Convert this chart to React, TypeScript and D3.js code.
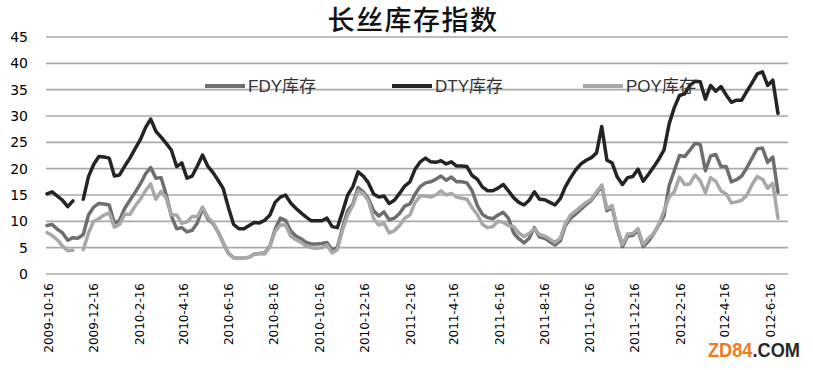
import React from 'react';
import * as d3 from 'd3';

const startDate = new Date(2009, 9, 16);

const fdyValues: (number | null)[] = [
  9.2, 9.4, 8.5, 7.8, 6.4, 6.9, 6.8, 7.5, 11.2, 12.7,
  13.4, 13.3, 13.1, 9.6, 10.2, 12.5, 14.0, 15.5, 17.1, 19.0,
  20.2, 18.2, 18.3, 15.0, 11.0, 8.6, 8.8, 8.0, 8.3, 9.7,
  12.5, 10.5, 9.6, 8.0, 5.9, 3.9, 3.1, 3.0, 3.0, 3.2,
  3.8, 3.9, 4.0, 5.3, 8.5, 10.6, 10.2, 8.2, 7.2, 6.7,
  6.0, 5.7, 5.7, 5.8, 6.0, 4.6, 5.0, 8.8, 12.0, 13.3,
  16.4, 15.6, 14.3, 12.0, 11.0, 11.8, 10.3, 10.6, 11.5, 12.9,
  13.3, 15.2, 16.6, 17.3, 17.5, 18.0, 18.6, 17.8, 18.4, 17.5,
  17.5, 17.3, 15.8, 13.0, 11.3, 10.7, 10.5, 11.2, 11.7, 10.6,
  7.8, 6.7, 5.9, 6.8, 8.8, 7.0, 6.8, 6.1, 5.5, 6.3,
  9.2, 10.6, 11.4, 12.3, 13.2, 14.0, 15.3, 16.8, 12.0, 12.7,
  8.5, 5.2, 7.2, 7.3, 8.3, 5.2, 6.2, 7.6, 9.3, 11.0,
  16.8, 19.6, 22.5, 22.3, 23.5, 24.8, 24.6, 19.6, 22.4, 22.7,
  20.4, 20.4, 17.5, 17.9, 18.6, 20.2, 22.0, 23.8, 23.9, 21.2,
  22.2, 15.5,
];

const dtyValues: (number | null)[] = [
  15.2, 15.6, 14.8, 14.0, 12.8, 13.9, null, 14.2, 18.5, 20.8,
  22.3, 22.2, 22.0, 18.6, 18.8, 20.5, 22.0, 23.8, 25.5, 27.8,
  29.4, 27.1, 26.0, 24.8, 23.5, 20.4, 21.1, 18.2, 18.6, 20.5,
  22.6, 20.5, 19.3, 17.8, 16.2, 12.6, 9.4, 8.6, 8.6, 9.2,
  9.8, 9.7, 10.2, 11.2, 13.6, 14.6, 15.0, 13.5, 12.5, 11.6,
  10.8, 10.1, 10.1, 10.1, 10.6, 9.0, 8.8, 11.8, 15.0, 16.6,
  19.4, 18.6, 17.3, 15.2, 14.6, 14.8, 13.4, 14.0, 15.3, 16.7,
  17.5, 19.9, 21.3, 22.0, 21.3, 21.2, 21.5, 20.9, 21.3, 20.5,
  20.5, 20.4, 18.7, 18.0, 16.5, 15.8, 15.8, 16.3, 17.0, 15.8,
  14.5, 13.6, 13.1, 14.0, 15.6, 14.2, 14.1, 13.6, 13.1, 14.3,
  16.6, 18.3, 19.8, 20.9, 21.6, 22.1, 23.0, 28.0, 21.6, 21.1,
  18.4, 17.0, 18.3, 18.5, 19.9, 17.6, 18.9, 20.3, 21.8, 23.5,
  28.5, 31.6, 33.9, 34.2, 35.8, 36.6, 36.5, 33.2, 35.8, 34.7,
  35.6, 34.0, 32.6, 33.0, 33.0, 34.7, 36.3, 38.0, 38.4, 35.8,
  36.8, 30.5,
];

const poyValues: (number | null)[] = [
  7.9, 7.3, 6.5, 5.3, 4.4, 4.5, null, 4.6, 7.8, 10.0,
  10.5, 11.2, 11.6, 8.9, 9.4, 11.4, 11.3, 12.9, 14.2, 15.8,
  17.1, 14.2, 15.7, 14.4, 11.2, 11.2, 9.6, 9.9, 10.9, 10.9,
  12.7, 10.8, 9.8, 8.0, 6.0, 3.9, 3.1, 3.0, 3.0, 3.2,
  3.8, 3.9, 3.8, 5.2, 8.1, 9.3, 9.3, 7.2, 6.5, 6.0,
  5.3, 5.0, 4.9, 5.0, 5.5, 4.0, 4.6, 8.3, 11.2, 13.0,
  15.8, 15.3, 13.9, 10.5, 9.3, 9.6, 7.8, 8.2, 9.2, 10.6,
  11.2, 13.6, 14.8, 14.8, 14.6, 15.0, 15.8, 15.0, 15.3, 14.6,
  14.4, 14.2, 12.6, 11.3, 9.4, 8.8, 9.0, 10.0, 9.8, 9.2,
  9.0, 7.8, 7.1, 7.7, 8.6, 7.5, 7.2, 6.6, 6.0, 6.8,
  9.6, 11.2, 12.0, 12.8, 13.6, 14.2, 15.6, 16.9, 12.4, 13.0,
  8.8, 5.6, 7.6, 7.7, 8.6, 5.6, 6.8, 7.7, 9.4, 12.0,
  14.6, 15.6, 18.4, 17.0, 17.1, 18.8, 17.7, 15.4, 18.3, 17.6,
  15.8, 15.2, 13.5, 13.7, 14.0, 15.0, 17.0, 18.5, 18.0, 16.3,
  17.2, 10.6,
];

const seriesNames = ['FDY库存', 'DTY库存', 'POY库存'];
const seriesColors = ['#6e6e6e', '#242424', '#a8a8a8'];

const tickLabels = [
  '2009-10-16', '2009-12-16', '2010-2-16', '2010-4-16', '2010-6-16', '2010-8-16',
  '2010-10-16', '2010-12-16', '2011-2-16', '2011-4-16', '2011-6-16', '2011-8-16',
  '2011-10-16', '2011-12-16', '2012-2-16', '2012-4-16', '2012-6-16',
];

const yTicks = [0, 5, 10, 15, 20, 25, 30, 35, 40, 45];

const dates = fdyValues.map((_, i) => d3.timeDay.offset(startDate, i * 7));

function parseLabel(s: string) {
  const [yy, mm, dd] = s.split('-').map(Number);
  return new Date(yy, mm - 1, dd);
}

export default function App() {
  const W = 813;
  const H = 370;
  const x = d3.scaleTime().domain([dates[0], dates[dates.length - 1]]).range([47, 778]);
  const y = d3.scaleLinear().domain([0, 45]).range([274, 37]);

  const lineGen = d3
    .line<number | null>()
    .defined((d) => d != null)
    .x((_, i) => x(dates[i]))
    .y((d) => y(d as number));

  const allSeries = [fdyValues, dtyValues, poyValues];
  const legendX = [205, 392, 583];

  return (
    <svg
      width={W}
      height={H}
      style={{ position: 'absolute', left: 0, top: 0, background: '#fff' }}
    >
      <rect x={0} y={0} width={W} height={H} fill="#fff" />
      <text
        x={413}
        y={30}
        textAnchor="middle"
        fontFamily="'Noto Sans CJK SC', sans-serif"
        fontSize={27}
        fontWeight={500}
        letterSpacing={1.5}
        fill="#111"
      >
        长丝库存指数
      </text>
      {yTicks.map((t) => (
        <g key={t}>
          <line x1={46} x2={788} y1={y(t)} y2={y(t)} stroke="#a9a9a9" strokeWidth={1.6} />
          <text
            x={28}
            y={y(t)}
            dy="0.35em"
            textAnchor="end"
            fontFamily="'DejaVu Sans', sans-serif"
            fontSize={14}
            fill="#000"
          >
            {t}
          </text>
        </g>
      ))}
      {tickLabels.map((s) => {
        const tx = x(parseLabel(s)) + 2;
        return (
          <text
            key={s}
            transform={`translate(${tx},283) rotate(-90)`}
            dy="0.35em"
            textAnchor="end"
            fontFamily="'DejaVu Sans', sans-serif"
            fontSize={12}
            fill="#000"
          >
            {s}
          </text>
        );
      })}
      {allSeries.map((vals, k) => (
        <path
          key={seriesNames[k]}
          d={lineGen(vals) || ''}
          fill="none"
          stroke={seriesColors[k]}
          strokeWidth={3.5}
          strokeLinejoin="round"
          strokeLinecap="round"
        />
      ))}
      {seriesNames.map((n, k) => (
        <g key={n}>
          <line
            x1={legendX[k]}
            x2={legendX[k] + 40}
            y1={86}
            y2={86}
            stroke={seriesColors[k]}
            strokeWidth={4}
          />
          <text
            x={legendX[k] + 43}
            y={86}
            dy="0.36em"
            fontFamily="'Liberation Sans', 'Noto Sans CJK SC', sans-serif"
            fontSize={17}
            fill="#333"
          >
            {n}
          </text>
        </g>
      ))}
      <rect x={705} y={338} width={98} height={24} fill="#fff" />
      <text
        x={708}
        y={357}
        fontFamily="'Liberation Sans', sans-serif"
        fontWeight="bold"
        fontSize={20}
        textLength={92}
        lengthAdjust="spacingAndGlyphs"
      >
        <tspan fill="#f07a1c">ZD84</tspan>
        <tspan fill="#2a2a2a">.COM</tspan>
      </text>
    </svg>
  );
}
